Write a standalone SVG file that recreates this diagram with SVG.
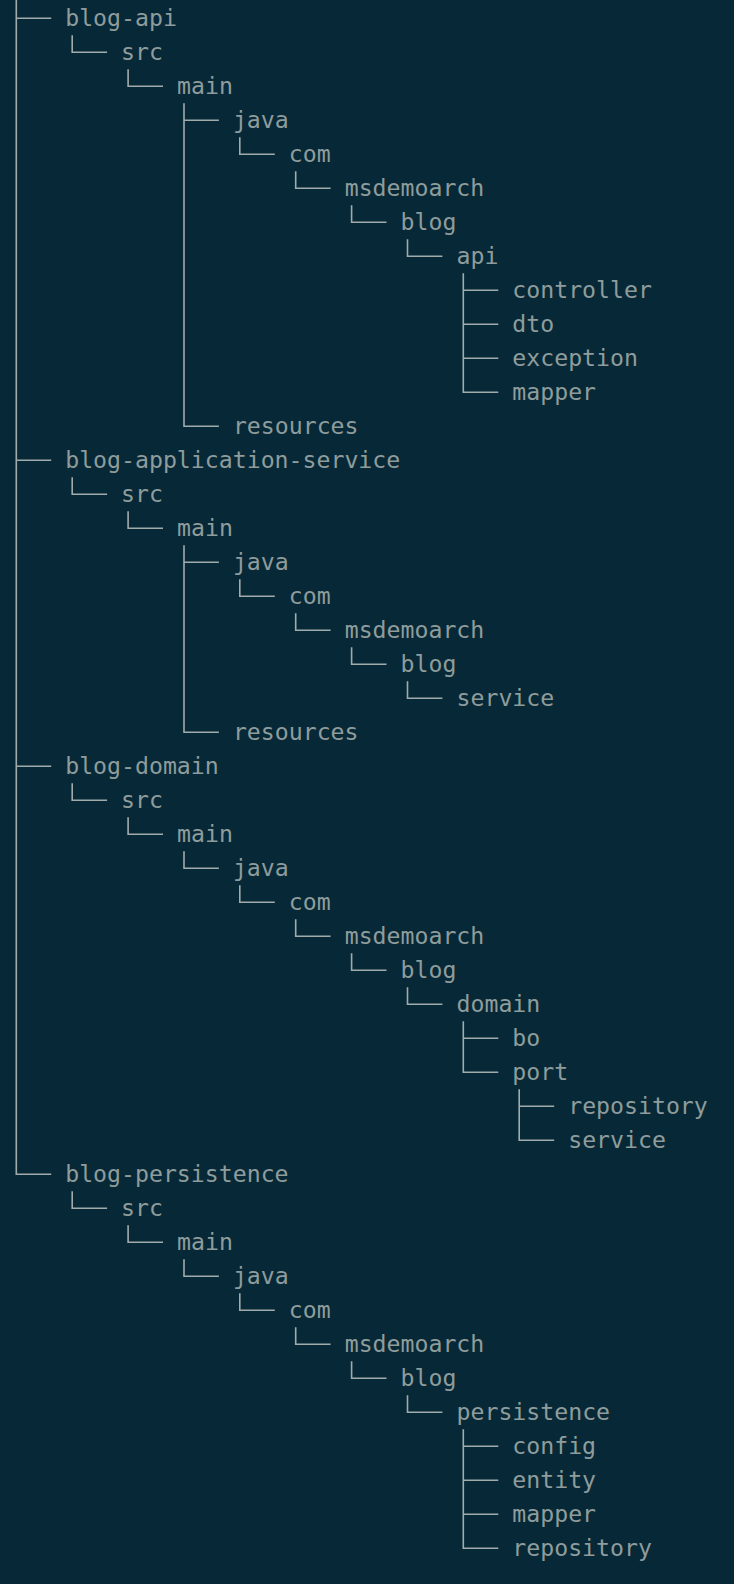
<svg xmlns="http://www.w3.org/2000/svg" width="734" height="1584" viewBox="0 0 734 1584">
<style>
.t{font-family:"DejaVu Sans Mono","Liberation Mono",monospace;font-size:23.2px;fill:#8f9c9c}
.c{fill:none;stroke:#a2abab;stroke-width:1.6}
</style>
<rect width="734" height="1584" fill="#072937"/>
<g id="connectors" class="c">
<path d="M16.3,0 V1174.3 H51.2 M16.3,18.3 H51.2 M16.3,460.3 H51.2 M16.3,766.3 H51.2"/>
<path d="M72.2,35.3 V52.3 H107.1"/>
<path d="M128.1,69.3 V86.3 H163"/>
<path d="M184,103.3 V426.3 H218.9 M184,120.3 H218.9"/>
<path d="M239.8,137.3 V154.3 H274.8"/>
<path d="M295.7,171.3 V188.3 H330.6"/>
<path d="M351.6,205.3 V222.3 H386.5"/>
<path d="M407.5,239.3 V256.3 H442.4"/>
<path d="M463.3,273.3 V392.3 H498.3 M463.3,290.3 H498.3 M463.3,324.3 H498.3 M463.3,358.3 H498.3"/>
<path d="M72.2,477.3 V494.3 H107.1"/>
<path d="M128.1,511.3 V528.3 H163"/>
<path d="M184,545.3 V732.3 H218.9 M184,562.3 H218.9"/>
<path d="M239.8,579.3 V596.3 H274.8"/>
<path d="M295.7,613.3 V630.3 H330.6"/>
<path d="M351.6,647.3 V664.3 H386.5"/>
<path d="M407.5,681.3 V698.3 H442.4"/>
<path d="M72.2,783.3 V800.3 H107.1"/>
<path d="M128.1,817.3 V834.3 H163"/>
<path d="M184,851.3 V868.3 H218.9"/>
<path d="M239.8,885.3 V902.3 H274.8"/>
<path d="M295.7,919.3 V936.3 H330.6"/>
<path d="M351.6,953.3 V970.3 H386.5"/>
<path d="M407.5,987.3 V1004.3 H442.4"/>
<path d="M463.3,1021.3 V1072.3 H498.3 M463.3,1038.3 H498.3"/>
<path d="M519.2,1089.3 V1140.3 H554.2 M519.2,1106.3 H554.2"/>
<path d="M72.2,1191.3 V1208.3 H107.1"/>
<path d="M128.1,1225.3 V1242.3 H163"/>
<path d="M184,1259.3 V1276.3 H218.9"/>
<path d="M239.8,1293.3 V1310.3 H274.8"/>
<path d="M295.7,1327.3 V1344.3 H330.6"/>
<path d="M351.6,1361.3 V1378.3 H386.5"/>
<path d="M407.5,1395.3 V1412.3 H442.4"/>
<path d="M463.3,1429.3 V1548.3 H498.3 M463.3,1446.3 H498.3 M463.3,1480.3 H498.3 M463.3,1514.3 H498.3"/>
</g>
<g id="n-blog-api"><text class="t" x="65.2" y="26">blog-api</text></g>
<g id="n-api-src"><text class="t" x="121.1" y="60">src</text></g>
<g id="n-api-main"><text class="t" x="177" y="94">main</text></g>
<g id="n-api-java"><text class="t" x="232.9" y="128">java</text></g>
<g id="n-api-com"><text class="t" x="288.8" y="162">com</text></g>
<g id="n-api-msdemoarch"><text class="t" x="344.7" y="196">msdemoarch</text></g>
<g id="n-api-blog"><text class="t" x="400.6" y="230">blog</text></g>
<g id="n-api-api"><text class="t" x="456.5" y="264">api</text></g>
<g id="n-api-controller"><text class="t" x="512.3" y="298">controller</text></g>
<g id="n-api-dto"><text class="t" x="512.3" y="332">dto</text></g>
<g id="n-api-exception"><text class="t" x="512.3" y="366">exception</text></g>
<g id="n-api-mapper"><text class="t" x="512.3" y="400">mapper</text></g>
<g id="n-api-resources"><text class="t" x="232.9" y="434">resources</text></g>
<g id="n-blog-application-service"><text class="t" x="65.2" y="468">blog-application-service</text></g>
<g id="n-app-src"><text class="t" x="121.1" y="502">src</text></g>
<g id="n-app-main"><text class="t" x="177" y="536">main</text></g>
<g id="n-app-java"><text class="t" x="232.9" y="570">java</text></g>
<g id="n-app-com"><text class="t" x="288.8" y="604">com</text></g>
<g id="n-app-msdemoarch"><text class="t" x="344.7" y="638">msdemoarch</text></g>
<g id="n-app-blog"><text class="t" x="400.6" y="672">blog</text></g>
<g id="n-app-service"><text class="t" x="456.5" y="706">service</text></g>
<g id="n-app-resources"><text class="t" x="232.9" y="740">resources</text></g>
<g id="n-blog-domain"><text class="t" x="65.2" y="774">blog-domain</text></g>
<g id="n-dom-src"><text class="t" x="121.1" y="808">src</text></g>
<g id="n-dom-main"><text class="t" x="177" y="842">main</text></g>
<g id="n-dom-java"><text class="t" x="232.9" y="876">java</text></g>
<g id="n-dom-com"><text class="t" x="288.8" y="910">com</text></g>
<g id="n-dom-msdemoarch"><text class="t" x="344.7" y="944">msdemoarch</text></g>
<g id="n-dom-blog"><text class="t" x="400.6" y="978">blog</text></g>
<g id="n-dom-domain"><text class="t" x="456.5" y="1012">domain</text></g>
<g id="n-dom-bo"><text class="t" x="512.3" y="1046">bo</text></g>
<g id="n-dom-port"><text class="t" x="512.3" y="1080">port</text></g>
<g id="n-dom-repository"><text class="t" x="568.2" y="1114">repository</text></g>
<g id="n-dom-service"><text class="t" x="568.2" y="1148">service</text></g>
<g id="n-blog-persistence"><text class="t" x="65.2" y="1182">blog-persistence</text></g>
<g id="n-per-src"><text class="t" x="121.1" y="1216">src</text></g>
<g id="n-per-main"><text class="t" x="177" y="1250">main</text></g>
<g id="n-per-java"><text class="t" x="232.9" y="1284">java</text></g>
<g id="n-per-com"><text class="t" x="288.8" y="1318">com</text></g>
<g id="n-per-msdemoarch"><text class="t" x="344.7" y="1352">msdemoarch</text></g>
<g id="n-per-blog"><text class="t" x="400.6" y="1386">blog</text></g>
<g id="n-per-persistence"><text class="t" x="456.5" y="1420">persistence</text></g>
<g id="n-per-config"><text class="t" x="512.3" y="1454">config</text></g>
<g id="n-per-entity"><text class="t" x="512.3" y="1488">entity</text></g>
<g id="n-per-mapper"><text class="t" x="512.3" y="1522">mapper</text></g>
<g id="n-per-repository"><text class="t" x="512.3" y="1556">repository</text></g>
</svg>
